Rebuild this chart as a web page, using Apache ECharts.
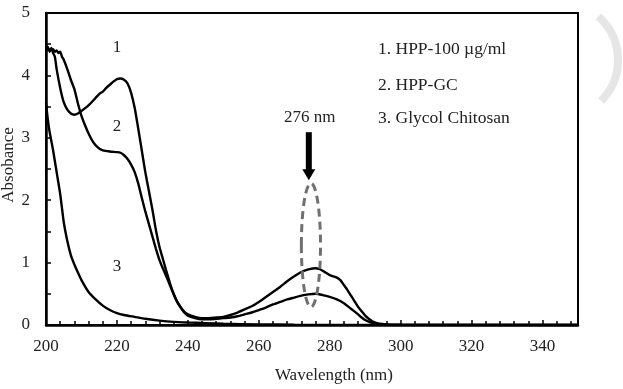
<!DOCTYPE html>
<html>
<head>
<meta charset="utf-8">
<script src="https://cdn.jsdelivr.net/npm/echarts@6/dist/echarts.min.js"></script>
<style>html,body{margin:0;padding:0;background:#fff;}#c{width:623px;height:389px;}</style>
</head>
<body>
<div id="c"></div>
<script>
// Wavelength (nm) / Absorbance pairs
const hpp100 = [
  [200,4.42],[200.5,4.46],[201,4.38],[201.5,4.44],[202,4.36],[202.5,4.30],[203,4.10],[204,3.80],[205,3.57],[206,3.45],[207,3.39],[208,3.37],[209,3.39],[210,3.43],
  [212,3.52],[214,3.64],[215,3.70],[216,3.74],[217,3.80],[218,3.85],[219,3.90],[220,3.94],[221,3.95],[222,3.93],[223,3.87],[224,3.72],[225,3.48],[226,3.15],
  [227,2.80],[228,2.45],[229,2.15],[230,1.85],[231,1.52],[232,1.25],[233,1.05],[234,0.85],[235,0.66],[236,0.50],[237,0.37],[238,0.28],[239,0.21],[240,0.17],
  [242,0.13],[244,0.11],[246,0.11],[248,0.12],[250,0.13],[252,0.16],[254,0.20],[256,0.25],[258,0.30],[260,0.37],[262,0.45],[264,0.53],[266,0.61],[268,0.70],
  [270,0.78],[272,0.85],[274,0.89],[276,0.91],[277,0.90],[278,0.87],[280,0.80],[282,0.76],[283,0.72],[284,0.64],[285,0.56],[286,0.47],[287,0.38],[288,0.29],
  [289,0.22],[290,0.15],[291,0.10],[292,0.06],[294,0.02],[296,0.01],[300,0.005],[310,0],[350,0]
];
const hppGC = [
  [200,4.38],[200.5,4.44],[201,4.40],[202,4.42],[202.5,4.38],[203,4.40],[203.5,4.36],[204,4.38],[204.5,4.30],[205,4.25],[206,4.10],[207,3.93],[208,3.78],
  [209,3.55],[210,3.35],[211,3.20],[212,3.07],[213,2.96],[214,2.88],[215,2.83],[216,2.80],[218,2.78],[220,2.77],[221,2.76],[222,2.72],[223,2.66],[224,2.57],
  [225,2.45],[226,2.27],[227,2.04],[228,1.82],[229,1.62],[230,1.42],[231,1.22],[232,1.04],[233,0.90],[234,0.77],[235,0.63],[236,0.49],[237,0.37],[238,0.28],
  [239,0.20],[240,0.15],[242,0.11],[244,0.09],[246,0.09],[248,0.10],[250,0.11],[252,0.12],[254,0.14],[256,0.17],[258,0.20],[260,0.24],[262,0.28],[264,0.33],
  [266,0.37],[268,0.41],[270,0.44],[272,0.47],[274,0.49],[276,0.50],[278,0.48],[280,0.45],[282,0.41],[284,0.35],[286,0.26],[288,0.17],[289,0.12],[290,0.08],
  [292,0.03],[294,0.01],[300,0],[350,0]
];
const glycolChitosan = [
  [200,3.55],[200.5,3.30],[201,3.10],[202,2.80],[203,2.45],[204,2.10],[205,1.65],[206,1.35],[207,1.12],[208,0.97],[209,0.84],[210,0.72],[212,0.53],[214,0.41],
  [216,0.31],[218,0.24],[220,0.19],[222,0.16],[225,0.13],[228,0.10],[232,0.07],[236,0.05],[240,0.04],[245,0.03],[250,0.02],[260,0.01],[270,0.005],[350,0]
];
const legendLines = ['1. HPP-100 \u00b5g/ml', '2. HPP-GC', '3. Glycol Chitosan'];
const curveTags = [['1', 220, 4.44], ['2', 220, 3.18], ['3', 220, 0.93]];
const peakLabel = '276 nm';
const xTitle = 'Wavelength (nm)';
const yTitle = 'Absobance';
const ellipseSpec = [[274.7, 1.28, 2.7, 0.99]];   // centre x, centre y, half-width (nm), half-height
const arrowSpec = [[274.1, 3.09, 2.32, 3.33]];    // x, top y, tip y, label y

const serif = '"Liberation Serif","Times New Roman",serif';
const chart = echarts.init(document.getElementById('c'));
const lineBase = {type:'line', showSymbol:false, smooth:0.2, lineStyle:{color:'#000', width:2.4}, silent:true, animation:false, z:5};

chart.setOption({
  animation:false,
  backgroundColor:'#fff',
  grid:{left:46, right:45, top:13, bottom:64, outerBoundsMode:'none', containLabel:false, show:true, borderColor:'#000', borderWidth:2, backgroundColor:'transparent'},
  xAxis:{
    type:'value', min:200, max:350, interval:20,
    axisLine:{lineStyle:{color:'#000', width:2.5}},
    axisTick:{inside:true, length:5, lineStyle:{color:'#000', width:1.5}},
    minorTick:{show:true, splitNumber:5, length:4, lineStyle:{color:'#000', width:1.5}},
    splitLine:{show:false},
    axisLabel:{fontFamily:serif, fontSize:17, color:'#222', margin:13, formatter:v => (v % 20 === 0 ? String(v) : '')}
  },
  yAxis:{
    type:'value', min:0, max:5, interval:1,
    axisLine:{show:true, lineStyle:{color:'#000', width:2.5}},
    axisTick:{inside:true, length:5, lineStyle:{color:'#000', width:1.5}},
    minorTick:{show:true, splitNumber:2, length:5, lineStyle:{color:'#000', width:1.5}},
    splitLine:{show:false},
    axisLabel:{fontFamily:serif, fontSize:17, color:'#222', margin:16}
  },
  series:[
    Object.assign({name:legendLines[0], data:hpp100}, lineBase),
    Object.assign({name:legendLines[1], data:hppGC}, lineBase),
    Object.assign({name:legendLines[2], data:glycolChitosan}, lineBase),
    {
      type:'custom', silent:true, z:6, data:ellipseSpec,
      renderItem:function(params, api){
        const c = api.coord([api.value(0), api.value(1)]);
        const s = api.size([api.value(2), api.value(3)]);
        return {type:'ellipse', shape:{cx:c[0], cy:c[1], rx:s[0], ry:s[1]},
          style:{fill:'none', stroke:'#707070', lineWidth:3, lineDash:[8,5]}};
      }
    },
    {
      type:'custom', silent:true, z:6, data:arrowSpec,
      renderItem:function(params, api){
        const top = api.coord([api.value(0), api.value(1)]);
        const tip = api.coord([api.value(0), api.value(2)]);
        const lab = api.coord([api.value(0), api.value(3)]);
        const headH = 11, headW = 6.5;
        return {type:'group', children:[
          {type:'rect', shape:{x:top[0]-3, y:top[1], width:6, height:tip[1]-top[1]-headH+1}, style:{fill:'#000'}},
          {type:'polygon', shape:{points:[[tip[0]-headW, tip[1]-headH],[tip[0]+headW, tip[1]-headH],[tip[0], tip[1]]]}, style:{fill:'#000'}},
          {type:'text', x:top[0]+1, y:lab[1], style:{text:peakLabel, font:'17px ' + serif, fill:'#222', align:'center', verticalAlign:'middle'}}
        ]};
      }
    },
    {
      type:'custom', silent:true, z:6, data:curveTags.map(t => [t[1], t[2]]),
      renderItem:function(params, api){
        const p = api.coord([api.value(0), api.value(1)]);
        return {type:'text', x:p[0], y:p[1], style:{text:curveTags[params.dataIndex][0], font:'17px ' + serif, fill:'#222', align:'center', verticalAlign:'middle'}};
      }
    }
  ],
  graphic:[
    {type:'text', x:378, y:49, style:{text:legendLines[0], font:'17.5px ' + serif, fill:'#222', verticalAlign:'middle'}},
    {type:'text', x:378, y:85, style:{text:legendLines[1], font:'17.5px ' + serif, fill:'#222', verticalAlign:'middle'}},
    {type:'text', x:378, y:118, style:{text:legendLines[2], font:'17.5px ' + serif, fill:'#222', verticalAlign:'middle'}},
    {type:'text', x:393, y:376, style:{text:xTitle, font:'17px ' + serif, fill:'#222', align:'right', verticalAlign:'middle'}},
    {type:'text', x:9, y:165, rotation:Math.PI/2, style:{text:yTitle, font:'17px ' + serif, fill:'#222', align:'center', verticalAlign:'middle'}},
    {type:'arc', shape:{cx:560, cy:60, r:58, startAngle:-Math.PI*0.27, endAngle:Math.PI*0.25}, style:{stroke:'#e6e6e6', lineWidth:8, fill:'none'}, silent:true}
  ]
});
</script>
</body>
</html>
